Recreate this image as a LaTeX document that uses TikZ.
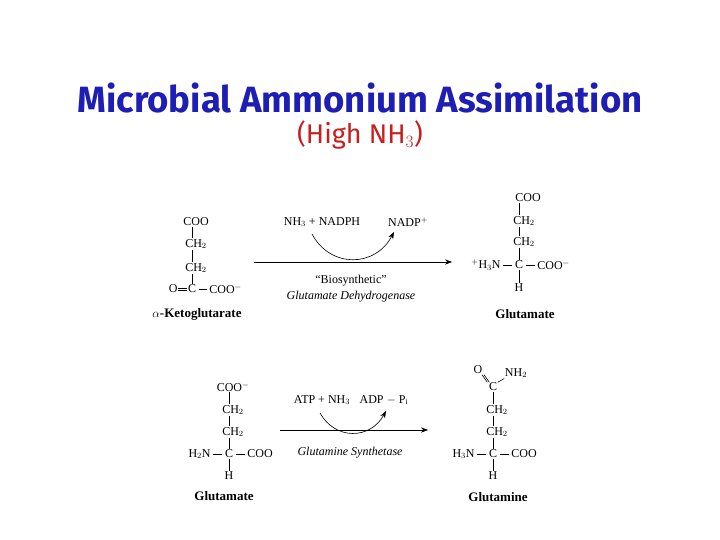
\documentclass[tikz,border=0pt]{standalone}
\usepackage{fontspec}
\setmainfont{Liberation Serif}
\newfontfamily\titlefont{Fira Sans}
\usepackage{tikz}
\usetikzlibrary{arrows.meta, positioning}
\definecolor{titleblue}{RGB}{30,30,180}
\definecolor{subred}{RGB}{200,30,30}
\tikzset{
  grp/.style={inner sep=0.5pt, font=\fontsize{12}{13}\selectfont},
  lbl/.style={font=\fontsize{13}{14}\selectfont\bfseries},
  bond/.style={line width=0.6pt},
  hbond/.style={bond, shorten <=2pt, shorten >=2pt},
  rxn/.style={-{Stealth[length=7pt]}, line width=0.6pt}
}
\begin{document}
\begin{tikzpicture}[x=1pt, y=-1pt]
\useasboundingbox (0,0) rectangle (720,540);
% Title
\node[text=titleblue, font=\fontsize{31}{34}\selectfont\titlefont\bfseries] (title) at (360,98) {\resizebox{565pt}{!}{Microbial Ammonium Assimilation}};
\node[text=subred, font=\fontsize{27}{30}\selectfont\titlefont] (sub) at (360,135) {(High NH$_3$)};

% Reaction 1: alpha-ketoglutarate
\node[grp] (k1) at (196,222) {COO};
\node[grp] (k2) at (196,244) {CH$_2$};
\node[grp] (k3) at (196,268) {CH$_2$};
\node[grp] (kc) at (192,289) {C};
\node[grp, left=9pt of kc] (ko) {O};
\node[grp, right=12pt of kc] (kr) {COO$^-$};
\draw[bond] (k1.south -| kc) -- (k2.north -| kc);
\draw[bond] (k2.south -| kc) -- (k3.north -| kc);
\draw[bond] (k3.south -| kc) -- (kc);
\draw[bond] ([yshift=-1pt]ko.east) -- ([yshift=-1pt]kc.west);
\draw[bond] ([yshift=1pt]ko.east) -- ([yshift=1pt]kc.west);
\draw[hbond] (kc) -- (kr);
\node[lbl] (akg) at (197,314) {$\alpha$-Ketoglutarate};

% Reaction 1: arrow
\coordinate (a1s) at (254,262);
\coordinate (a1e) at (452,262);
\draw[rxn] (a1s) -- (a1e);
\node[grp] (nh) at (322,222) {NH$_3$ + NADPH};
\node[grp] (nadp) at (408,222) {NADP$^+$};
\coordinate (c1s) at (312,234);
\coordinate (c1e) at (394,232);
\draw[rxn] (c1s) .. controls (330,268) and (375,268) .. (c1e);
\node[grp] (bio) at (351,281) {``Biosynthetic''};
\node[grp, font=\fontsize{12}{13}\selectfont\itshape] (gdh) at (351,297) {Glutamate Dehydrogenase};

% Reaction 1: glutamate
\node[grp] (g1) at (528,198) {COO};
\node[grp] (g2) at (524,221) {CH$_2$};
\node[grp] (g3) at (524,242) {CH$_2$};
\node[grp] (gc) at (519,265) {C};
\node[grp, left=13pt of gc] (gn) {$^+$H$_3$N};
\node[grp, right=13pt of gc] (gr) {COO$^-$};
\node[grp] (gh) at (519,288) {H};
\draw[bond] (g1.south -| gc) -- (g2.north -| gc);
\draw[bond] (g2.south -| gc) -- (g3.north -| gc);
\draw[bond] (g3.south -| gc) -- (gc);
\draw[hbond] (gn) -- (gc);
\draw[hbond] (gc) -- (gr);
\draw[bond] (gc) -- (gh);
\node[lbl] (glu1) at (525,314) {Glutamate};

% Reaction 2: glutamate
\node[grp] (e1) at (233,387) {COO$^-$};
\node[grp] (e2) at (233,410) {CH$_2$};
\node[grp] (e3) at (233,432) {CH$_2$};
\node[grp] (ec) at (229,454) {C};
\node[grp, left=13pt of ec] (en) {H$_2$N};
\node[grp, right=13pt of ec] (er) {COO};
\node[grp] (eh) at (229,476) {H};
\draw[bond] (e1.south -| ec) -- (e2.north -| ec);
\draw[bond] (e2.south -| ec) -- (e3.north -| ec);
\draw[bond] (e3.south -| ec) -- (ec);
\draw[hbond] (en) -- (ec);
\draw[hbond] (ec) -- (er);
\draw[bond] (ec) -- (eh);
\node[lbl] (glu2) at (224,496) {Glutamate};

% Reaction 2: arrow
\coordinate (a2s) at (280,430);
\coordinate (a2e) at (428,430);
\draw[rxn] (a2s) -- (a2e);
\node[grp] (atp) at (322,400) {ATP + NH$_3$};
\node[grp] (adp) at (384,400) {ADP $-$ P$_\mathrm{i}$};
\coordinate (c2s) at (320,413);
\coordinate (c2e) at (386,411);
\draw[rxn] (c2s) .. controls (335,440) and (370,440) .. (c2e);
\node[grp, font=\fontsize{12}{13}\selectfont\itshape] (gs) at (350,453) {Glutamine Synthetase};

% Reaction 2: glutamine
\node[grp] (q0) at (493,387) {C};
\node[grp] (qo) at (478,370) {O};
\node[grp] (qn) at (516,373) {NH$_2$};
\node[grp] (q2) at (497,410) {CH$_2$};
\node[grp] (q3) at (497,432) {CH$_2$};
\node[grp] (qc) at (493,454) {C};
\node[grp, left=13pt of qc] (qa) {H$_3$N};
\node[grp, right=13pt of qc] (qr) {COO};
\node[grp] (qh) at (493,476) {H};
\draw[bond] ([xshift=-1pt]qo.south east) -- ([xshift=-1pt]q0.north west);
\draw[bond] ([xshift=1pt]qo.south east) -- ([xshift=1pt]q0.north west);
\draw[bond] (q0.north east) -- (qn.south west);
\draw[bond] (q0) -- (q2.north -| q0);
\draw[bond] (q2.south -| q0) -- (q3.north -| q0);
\draw[bond] (q3.south -| q0) -- (qc);
\draw[hbond] (qa) -- (qc);
\draw[hbond] (qc) -- (qr);
\draw[bond] (qc) -- (qh);
\node[lbl] (gln) at (498,497) {Glutamine};
\end{tikzpicture}
\end{document}
